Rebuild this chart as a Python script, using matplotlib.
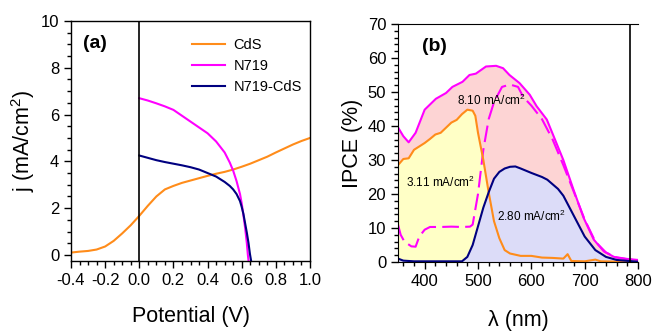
import matplotlib
matplotlib.use("Agg")
import matplotlib.pyplot as plt
from matplotlib.ticker import MultipleLocator
import numpy as np

plt.rcParams['font.family'] = ['Liberation Sans', 'DejaVu Sans']
plt.rcParams['mathtext.fontset'] = 'custom'
plt.rcParams['mathtext.rm'] = 'Liberation Sans'

# ---- panel (a): J-V ----
v_cds = [-0.4, -0.35, -0.3, -0.25, -0.2, -0.15, -0.1, -0.05, 0.0, 0.05, 0.1, 0.15, 0.2,
         0.25, 0.3, 0.35, 0.4, 0.45, 0.5, 0.55, 0.6, 0.65, 0.7, 0.75, 0.8, 0.85, 0.9, 0.95, 1.0]
j_cds = [0.1, 0.14, 0.17, 0.23, 0.36, 0.6, 0.92, 1.27, 1.67, 2.1, 2.5, 2.8, 2.95,
         3.08, 3.18, 3.28, 3.38, 3.47, 3.55, 3.65, 3.77, 3.9, 4.05, 4.2, 4.38, 4.55, 4.72, 4.87, 5.0]

v_n719 = [0.0, 0.05, 0.1, 0.15, 0.2, 0.25, 0.3, 0.35, 0.4, 0.45, 0.5, 0.53, 0.55, 0.57, 0.59,
          0.6, 0.61, 0.62, 0.63, 0.636, 0.64]
j_n719 = [6.7, 6.6, 6.48, 6.35, 6.2, 5.95, 5.7, 5.45, 5.2, 4.85, 4.38, 3.95, 3.6, 3.15, 2.6,
          2.2, 1.7, 1.15, 0.5, 0.0, -0.25]

v_mix = [0.0, 0.05, 0.1, 0.15, 0.2, 0.25, 0.3, 0.35, 0.4, 0.45, 0.5, 0.53, 0.55, 0.57, 0.59,
         0.6, 0.61, 0.62, 0.63, 0.64, 0.648, 0.655]
j_mix = [4.25, 4.15, 4.05, 3.97, 3.9, 3.83, 3.75, 3.65, 3.5, 3.35, 3.12, 2.95, 2.8, 2.6, 2.3,
         2.05, 1.75, 1.35, 0.95, 0.5, 0.05, -0.25]

# ---- panel (b): IPCE ----
wl_n719cds = [350, 360, 370, 383, 400, 421, 440, 452, 471, 484, 496, 515, 534, 547, 559, 578,
              597, 610, 629, 647, 660, 679, 698, 717, 736, 755, 780, 800]
ipce_n719cds = [39.6, 37.0, 35.2, 38.0, 44.8, 48.0, 49.7, 51.5, 53.0, 55.0, 55.4, 57.5, 57.7, 57.0,
                55.0, 52.6, 49.2, 45.8, 41.9, 35.0, 30.0, 21.3, 13.0, 6.6, 3.1, 1.5, 0.9, 0.6]

wl_n719 = [350, 355, 362, 375, 383, 390, 400, 410, 430, 450, 470, 485, 490, 500, 510, 520, 530,
           545, 560, 575, 585, 600, 620, 640, 660, 680, 700, 720, 740, 760, 780, 800]
ipce_n719 = [11.0, 8.0, 6.0, 4.6, 4.5, 7.5, 9.5, 10.3, 10.3, 10.4, 10.3, 10.4, 11.0, 20.0, 33.0,
             42.0, 47.0, 51.5, 52.2, 51.5, 48.5, 46.0, 42.0, 36.0, 28.5, 20.5, 12.5, 6.0, 2.8, 1.3, 0.8, 0.5]

wl_cds = [350, 360, 370, 380, 390, 400, 410, 420, 430, 440, 450, 460, 470, 480, 490, 495, 500,
          510, 520, 530, 540, 550, 560, 580, 600, 620, 640, 660, 668, 675, 700, 720, 730, 800]
ipce_cds = [28.5, 30.3, 30.5, 33.0, 34.0, 35.0, 36.2, 37.5, 38.0, 39.5, 41.0, 41.8, 43.5, 44.8,
            44.5, 43.0, 38.0, 30.0, 20.5, 12.0, 7.0, 3.5, 2.5, 1.8, 1.8, 1.3, 1.2, 1.0, 2.3, 0.3,
            0.2, 0.7, 0.2, 0.0]

wl_mix = [350, 360, 380, 470, 480, 490, 500, 510, 520, 530, 540, 550, 560, 570, 580, 600, 620,
          630, 650, 660, 680, 700, 720, 740, 760, 790, 800]
ipce_mix = [1.0, 0.4, 0.2, 0.2, 1.5, 5.0, 10.5, 16.0, 20.5, 24.5, 26.5, 27.5, 28.0, 28.1, 27.5,
            26.2, 25.0, 24.2, 21.5, 19.5, 13.5, 7.5, 3.5, 1.5, 0.6, 0.2, 0.1]

labels = ['CdS', 'N719', 'N719-CdS']
annot = ['3.11 mA/cm$^2$', '8.10 mA/cm$^2$', '2.80 mA/cm$^2$']

C_OR = '#ff8c1a'
C_MG = '#ff00ff'
C_NV = '#000080'

TICK_FS = 12
LABEL_FS = 15.5

fig = plt.figure(figsize=(6.53, 3.33), dpi=100)
ax1 = fig.add_axes([71/653, 1-261/333, 239/653, 240/333])
ax2 = fig.add_axes([398/653, 1-262/333, 240/653, 238/333])

# panel a
ax1.plot(v_cds, j_cds, color=C_OR, lw=1.5, label=labels[0])
ax1.plot(v_n719, j_n719, color=C_MG, lw=1.5, label=labels[1])
ax1.plot(v_mix, j_mix, color=C_NV, lw=1.5, label=labels[2])
ax1.axvline(0, color='black', lw=1.2)
ax1.set_xlim(-0.4, 1.0)
ax1.set_ylim(-0.26, 10)
ax1.xaxis.set_minor_locator(MultipleLocator(0.05))
ax1.yaxis.set_major_locator(MultipleLocator(2))
ax1.yaxis.set_minor_locator(MultipleLocator(0.5))
ax1.set_xticks(np.arange(-0.4, 1.01, 0.2))
ax1.set_xticklabels(['-0.4', '-0.2', '0.0', '0.2', '0.4', '0.6', '0.8', '1.0'])
ax1.tick_params(which='both', direction='out', labelsize=TICK_FS, width=1)
ax1.tick_params(which='major', length=5)
ax1.tick_params(which='minor', length=3)
ax1.set_xlabel('Potential (V)', fontsize=LABEL_FS, labelpad=13)
ax1.set_ylabel('j (mA/cm$^2$)', fontsize=LABEL_FS, labelpad=3)
for s in ax1.spines.values():
    s.set_linewidth(1.0)
ax1.text(0.05, 0.905, '(a)', transform=ax1.transAxes, fontsize=14, fontweight='bold', va='center')
leg = ax1.legend(loc='upper right', bbox_to_anchor=(1.02, 0.985), frameon=False, fontsize=10.5,
                 handlelength=2.2, handletextpad=0.6, labelspacing=0.5)

# panel b
ax2.fill_between(wl_n719cds, ipce_n719cds, color='#fdd4d4', lw=0)
ax2.fill_between(wl_cds, ipce_cds, color='#ffffc6', lw=0)
ax2.fill_between(wl_mix, ipce_mix, color='#dcdcf8', lw=0)
ax2.plot(wl_n719cds, ipce_n719cds, color=C_MG, lw=1.5)
ax2.plot(wl_n719, ipce_n719, color=C_MG, lw=1.5, dashes=(8, 3))
ax2.plot(wl_cds, ipce_cds, color=C_OR, lw=1.5)
ax2.plot(wl_mix, ipce_mix, color=C_NV, lw=1.5)
ax2.axvline(785, color='black', lw=1.2)
ax2.set_xlim(350, 800)
ax2.set_ylim(0, 70)
ax2.xaxis.set_major_locator(MultipleLocator(100))
ax2.xaxis.set_minor_locator(MultipleLocator(20))
ax2.yaxis.set_major_locator(MultipleLocator(10))
ax2.yaxis.set_minor_locator(MultipleLocator(2))
ax2.spines['right'].set_visible(False)
ax2.tick_params(which='both', direction='out', labelsize=TICK_FS, width=1)
ax2.tick_params(which='major', length=5)
ax2.tick_params(which='minor', length=3)
ax2.set_xlabel('λ (nm)', fontsize=LABEL_FS, labelpad=15)
ax2.set_ylabel('IPCE (%)', fontsize=LABEL_FS, labelpad=3)
ax2.text(0.1, 0.905, '(b)', transform=ax2.transAxes, fontsize=14, fontweight='bold', va='center')
ax2.text(365, 23.3, annot[0], fontsize=8.5, va='center')
ax2.text(461, 47.5, annot[1], fontsize=8.5, va='center')
ax2.text(535, 13.5, annot[2], fontsize=8.5, va='center')

fig.savefig('out.png', dpi=100)
